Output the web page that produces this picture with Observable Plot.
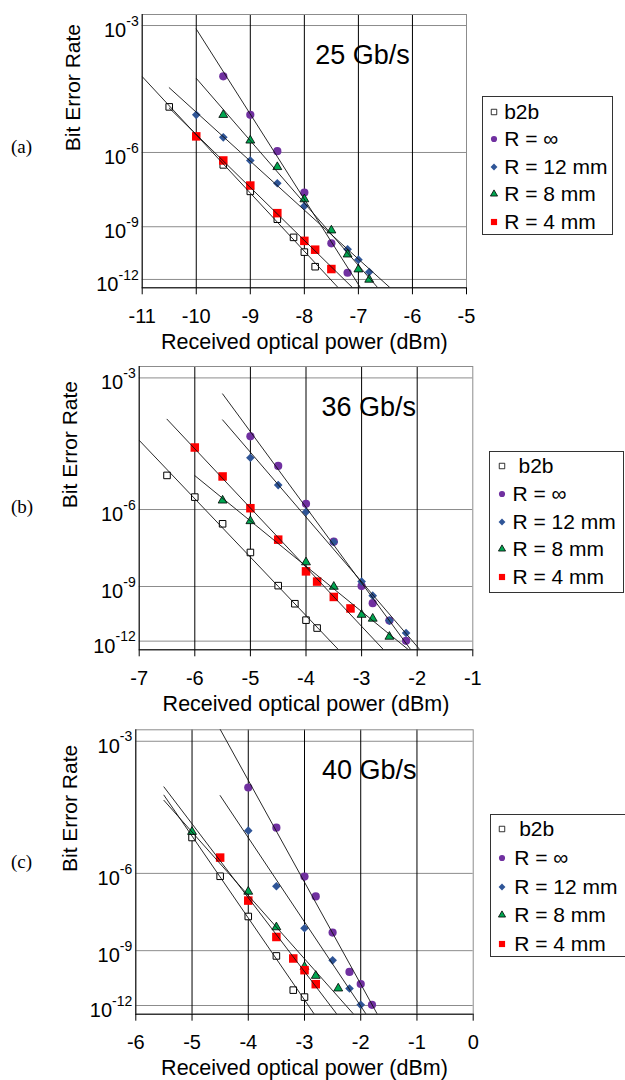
<!DOCTYPE html>
<html><head><meta charset="utf-8">
<script src="https://cdn.jsdelivr.net/npm/d3@7"></script>
<script src="https://cdn.jsdelivr.net/npm/@observablehq/plot@0.6"></script>
<style>
body{margin:0;background:#fff;}
#fig{position:relative;width:625px;height:1080px;overflow:hidden;font-family:"Liberation Sans",Arial,sans-serif;color:#000;}
.plotbox{position:absolute;left:0;}
.tag{position:absolute;left:11px;font-family:"Liberation Serif","Times New Roman",serif;font-size:19px;line-height:24px;}
.legend{position:absolute;border:1px solid #333;background:#fff;box-sizing:border-box;}
.legend .mk{position:absolute;width:12px;height:12px;}
.legend .lb{position:absolute;font-size:21px;line-height:22px;white-space:pre;}
</style></head><body><div id="fig"></div>
<script>
// ---------- data ----------
const seriesNames = ["b2b", "R = \u221e", "R = 12 mm", "R = 8 mm", "R = 4 mm"];
const rates = ["25 Gb/s", "36 Gb/s", "40 Gb/s"];
const panelTags = ["(a)", "(b)", "(c)"];
const xLabel = "Received optical power (dBm)";
const yLabel = "Bit Error Rate";
const xTicksA = [-11, -10, -9, -8, -7, -6, -5];
const xTicksB = [-7, -6, -5, -4, -3, -2, -1];
const xTicksC = [-6, -5, -4, -3, -2, -1, 0];
const berTickExps = [-3, -6, -9, -12];

// (a) 25 Gb/s
const a_b2b_p = [-10.5, -9.5, -9, -8.5, -8.2, -8, -7.8];
const a_b2b_ber = [2.1e-5, 3.8e-7, 3.8e-8, 2.3e-9, 2.9e-10, 4.6e-11, 6.4e-12];
const a_inf_p = [-9.5, -9, -8.5, -8, -7.5, -7.2];
const a_inf_ber = [1.1e-4, 1.3e-5, 1.1e-6, 3.4e-8, 1.4e-10, 2.7e-12];
const a_r12_p = [-10, -9.5, -9, -8.5, -8, -7.2, -7, -6.8];
const a_r12_ber = [1.3e-5, 3.0e-6, 5.4e-7, 8.0e-8, 9.1e-9, 6.6e-11, 1.7e-11, 3.0e-12];
const a_r8_p = [-9.5, -9, -8.5, -8, -7.5, -7.2, -7, -6.8];
const a_r8_ber = [1.3e-5, 2.4e-6, 3.2e-7, 1.8e-8, 6.6e-10, 3.4e-11, 4.4e-12, 9.7e-13];
const a_r4_p = [-10, -9.5, -9, -8.5, -8, -7.8, -7.5];
const a_r4_ber = [3.2e-6, 5.4e-7, 6.5e-8, 4.4e-9, 1.9e-10, 6.3e-11, 4.6e-12];
const a_fitFrom = [-11, -10, -10.5, -10, -10.5];

// (b) 36 Gb/s
const b_b2b_p = [-6.5, -6, -5.5, -5, -4.5, -4.2, -4, -3.8];
const b_b2b_ber = [9.7e-6, 2.4e-6, 3.4e-7, 3.0e-8, 1.1e-9, 1.4e-10, 1.8e-11, 6.3e-12];
const b_inf_p = [-5, -4.5, -4, -3.5, -3, -2.8, -2.5, -2.2];
const b_inf_ber = [8.3e-5, 1.7e-5, 1.5e-6, 7.8e-8, 1.05e-9, 1.5e-10, 1.7e-11, 1.05e-12];
const b_r12_p = [-5, -4.5, -4, -3.5, -3, -2.8, -2.5, -2.2];
const b_r12_ber = [2.7e-5, 5.3e-6, 8.4e-7, 7.6e-8, 1.7e-9, 3.6e-10, 1.7e-11, 3.2e-12];
const b_r8_p = [-5.5, -5, -4, -3.5, -3, -2.8, -2.5];
const b_r8_ber = [1.9e-6, 4.2e-7, 1.2e-8, 9.8e-10, 3.6e-11, 2.2e-11, 1.9e-12];
const b_r4_p = [-6, -5.5, -5, -4.5, -4, -3.8, -3.5, -3.2];
const b_r4_ber = [4.7e-5, 9.1e-6, 1.1e-6, 9.3e-8, 4.9e-9, 1.7e-9, 3.1e-10, 7.9e-11];
const b_fitFrom = [-7, -5.5, -5.5, -6, -6.5];

// (c) 40 Gb/s
const c_b2b_p = [-5, -4.5, -4, -3.5, -3.2, -3];
const c_b2b_ber = [1.07e-5, 8.1e-7, 3.0e-8, 5.6e-10, 8.5e-12, 3.3e-12];
const c_inf_p = [-4, -3.5, -3, -2.8, -2.5, -2.2, -2, -1.8];
const c_inf_ber = [1.5e-4, 1.9e-5, 7.9e-7, 1.7e-7, 6.5e-9, 8.7e-11, 1.9e-11, 1.1e-12];
const c_r12_p = [-4, -3.5, -3, -2.5, -2.2, -2];
const c_r12_ber = [1.6e-5, 3.8e-7, 1.0e-8, 3.4e-10, 1.06e-11, 1.1e-12];
const c_r8_p = [-5, -4, -3.5, -3, -2.8, -2.4];
const c_r8_ber = [1.5e-5, 2.5e-7, 1.1e-8, 1.6e-10, 5.4e-11, 1.07e-11];
const c_r4_p = [-4.5, -4, -3.5, -3.2, -3, -2.8];
const c_r4_ber = [3.0e-6, 1.2e-7, 4.2e-9, 4.2e-10, 1.07e-10, 1.86e-11];
const c_fitFrom = [-5.5, -4.5, -4.5, -5.5, -5.5];

// ---------- styles / layout ----------
const seriesStyle = [
  {symbol: "square", fill: "#ffffff", stroke: "#000", strokeWidth: 1, r: 3.7, lsize: 30},
  {symbol: "circle", fill: "#7030a0", stroke: "none", strokeWidth: 0, r: 4.1, lsize: 30},
  {symbol: "diamond2", fill: "#2f5597", stroke: "none", strokeWidth: 0, r: 3.9, lsize: 30},
  {symbol: "triangle", fill: "#00a550", stroke: "#000", strokeWidth: 0.8, r: 3.3, lsize: 22},
  {symbol: "square", fill: "#ff0000", stroke: "none", strokeWidth: 0, r: 4.8, lsize: 38}
];
const d3sym = {square: d3.symbolSquare, circle: d3.symbolCircle, diamond2: d3.symbolDiamond2, triangle: d3.symbolTriangle};
const frames = [
  {top: 0, height: 360, mt: 14, mb: 72.7, ml: 141.7, mr: 14, tag: 147, ydx: -69},
  {top: 355, height: 360, mt: 11, mb: 65.7, ml: 138.7, mr: 7.7, tag: 507, ydx: -69},
  {top: 715, height: 365, mt: 14.3, mb: 66.3, ml: 135.3, mr: 7.3, tag: 862, ydx: -66}
];
const legends = [
  {left: 481.7, top: 95.7, width: 131, height: 139, first: 16.3, step: 27.4, markerX: 12.6, textX: 22.5, b2bExtra: 0},
  {left: 489.3, top: 451, width: 135, height: 142.3, first: 15, step: 27.8, markerX: 13, textX: 23.2, b2bExtra: 6},
  {left: 490, top: 814, width: 140, height: 143, first: 15.3, step: 28.7, markerX: 12.3, textX: 24.2, b2bExtra: 5}
];
const yDomain = [0.451, 1.099];
const gridGray = "#8c8c8c";

// ---------- build ----------
const fval = (ber) => Math.log10(-Math.log10(ber));
const panels = [
  {ps: [a_b2b_p, a_inf_p, a_r12_p, a_r8_p, a_r4_p], bers: [a_b2b_ber, a_inf_ber, a_r12_ber, a_r8_ber, a_r4_ber], fitFrom: a_fitFrom, xt: xTicksA},
  {ps: [b_b2b_p, b_inf_p, b_r12_p, b_r8_p, b_r4_p], bers: [b_b2b_ber, b_inf_ber, b_r12_ber, b_r8_ber, b_r4_ber], fitFrom: b_fitFrom, xt: xTicksB},
  {ps: [c_b2b_p, c_inf_p, c_r12_p, c_r8_p, c_r4_p], bers: [c_b2b_ber, c_inf_ber, c_r12_ber, c_r8_ber, c_r4_ber], fitFrom: c_fitFrom, xt: xTicksC}
];
const yTickF = berTickExps.map(e => Math.log10(-e));
const fig = document.getElementById("fig");
const ns = "http://www.w3.org/2000/svg";

panels.forEach((P, i) => {
  const F = frames[i];
  const xmin = P.xt[0], xmax = P.xt[P.xt.length - 1];
  const pts = [], fits = [];
  seriesNames.forEach((name, k) => {
    const xs = P.ps[k], ys = P.bers[k].map(fval);
    xs.forEach((x, j) => pts.push({series: k, x, y: ys[j]}));
    const mx = d3.mean(xs), my = d3.mean(ys);
    const b = d3.sum(xs, (x, j) => (x - mx) * (ys[j] - my)) / d3.sum(xs, x => (x - mx) ** 2);
    const a = my - b * mx;
    [P.fitFrom[k], xmax].forEach(x => fits.push({series: k, x, y: a + b * x}));
  });
  const dotMarks = seriesStyle.map((s, k) => Plot.dot(pts.filter(d => d.series === k), {
    x: "x", y: "y", symbol: s.symbol, fill: s.fill, stroke: s.stroke, strokeWidth: s.strokeWidth, r: s.r
  }));
  const svg = Plot.plot({
    width: 480, height: F.height,
    marginTop: F.mt, marginBottom: F.mb, marginLeft: F.ml, marginRight: F.mr,
    style: {fontFamily: '"Liberation Sans", Arial, sans-serif', color: "#000", background: "none", overflow: "visible"},
    x: {domain: [xmin, xmax]},
    y: {domain: yDomain, reverse: true},
    marks: [
      Plot.gridY(yTickF, {stroke: gridGray, strokeOpacity: 1, strokeWidth: 1}),
      Plot.gridX(P.xt.slice(1, -1), {stroke: "#000", strokeOpacity: 1, strokeWidth: 1}),
      Plot.frame({stroke: gridGray, strokeWidth: 1}),
      Plot.ruleX([xmin], {stroke: "#000", strokeWidth: 1}),
      Plot.ruleY([yDomain[1]], {stroke: "#000", strokeWidth: 1}),
      Plot.axisX(P.xt, {tickSize: 7, tickPadding: 14, fontSize: 20, tickFormat: d => String(d), label: null}),
      Plot.axisY(yTickF, {tickSize: 0, tickPadding: 3.5, fontSize: 20, dy: 5,
        tickFormat: f => "10^-" + Math.round(10 ** f), label: null}),
      Plot.text([xLabel], {text: d => d, frameAnchor: "bottom", dy: 54, lineAnchor: "middle", fontSize: 21.5}),
      Plot.text([yLabel], {text: d => d, frameAnchor: "left", rotate: -90, dx: F.ydx, lineAnchor: "middle", fontSize: 21}),
      Plot.text([rates[i]], {text: d => d, frameAnchor: "top-right", dx: -104, dy: 49, textAnchor: "middle",
        lineAnchor: "bottom", fontSize: 27, ariaLabel: "rate-label"}),
      ...dotMarks,
      Plot.line(fits, {x: "x", y: "y", z: "series", stroke: "#111", strokeWidth: 0.9, clip: true})
    ]
  });
  const holder = document.createElement("div");
  holder.className = "plotbox";
  holder.style.top = F.top + "px";
  holder.appendChild(svg);
  fig.appendChild(holder);

  // superscript exponents on the y tick labels
  d3.select(svg).selectAll('g[aria-label="y-axis tick label"] text').each(function () {
    const t = this.textContent;
    if (!t.includes("^")) return;
    const [base, exp] = t.split("^");
    this.textContent = base;
    const ts = document.createElementNS(ns, "tspan");
    ts.setAttribute("font-size", "14");
    ts.setAttribute("dy", "-0.8em");
    ts.textContent = exp;
    this.appendChild(ts);
  });
  // white box behind the bit-rate label
  d3.select(svg).selectAll('g[aria-label="rate-label"] text').each(function () {
    const bb = this.getBBox();
    const r = document.createElementNS(ns, "rect");
    r.setAttribute("x", bb.x - 9);
    r.setAttribute("y", bb.y - 5);
    r.setAttribute("width", bb.width + 11);
    r.setAttribute("height", bb.height + 4);
    r.setAttribute("fill", "#fff");
    r.setAttribute("stroke", "none");
    const tr = this.getAttribute("transform");
    if (tr) r.setAttribute("transform", tr);
    this.parentNode.insertBefore(r, this);
  });

  // panel tag
  const tag = document.createElement("div");
  tag.className = "tag";
  tag.style.top = (F.tag - 12) + "px";
  tag.textContent = panelTags[i];
  fig.appendChild(tag);

  // legend
  const L = legends[i];
  const box = document.createElement("div");
  box.className = "legend";
  Object.assign(box.style, {left: L.left + "px", top: L.top + "px", width: L.width + "px", height: L.height + "px"});
  seriesNames.forEach((name, k) => {
    const s = seriesStyle[k];
    const cy = L.first + k * L.step - 1;
    const mk = document.createElementNS(ns, "svg");
    mk.setAttribute("class", "mk");
    mk.setAttribute("viewBox", "-6 -6 12 12");
    mk.style.left = (L.markerX - 7) + "px";
    mk.style.top = (cy - 6) + "px";
    const p = document.createElementNS(ns, "path");
    p.setAttribute("d", d3.symbol(d3sym[s.symbol], s.lsize)());
    p.setAttribute("fill", s.fill);
    p.setAttribute("stroke", s.stroke);
    p.setAttribute("stroke-width", s.strokeWidth ? Math.min(s.strokeWidth, 0.8) : 0);
    mk.appendChild(p);
    box.appendChild(mk);
    const lb = document.createElement("span");
    lb.className = "lb";
    lb.style.left = (L.textX - 1 + (k === 0 ? L.b2bExtra : 0)) + "px";
    lb.style.top = (cy - 11) + "px";
    lb.textContent = name;
    box.appendChild(lb);
  });
  fig.appendChild(box);
});
</script></body></html>
